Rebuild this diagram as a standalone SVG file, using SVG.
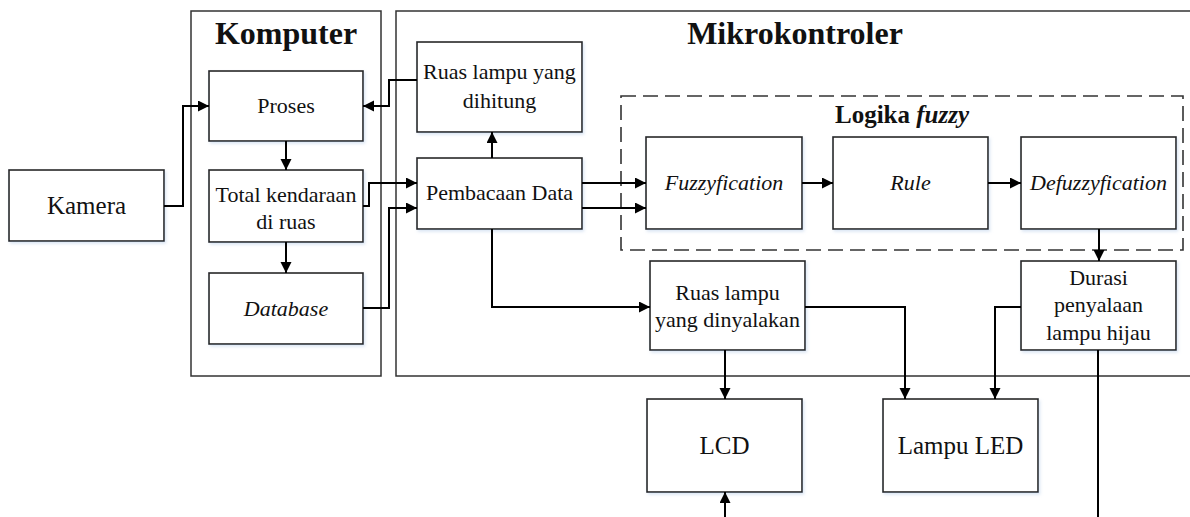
<svg xmlns="http://www.w3.org/2000/svg" width="1190" height="517" viewBox="0 0 1190 517">
<style>
  .box { fill: #fff; stroke: #262626; stroke-width: 1.6; filter: url(#sh); }
  .cont { fill: #fff; stroke: #333; stroke-width: 1.5; }
  .dash { fill: none; stroke: #333; stroke-width: 1.6; stroke-dasharray: 15 7; }
  .lbl { font-family: 'Liberation Serif', 'Times New Roman', serif; font-size: 22px; fill: #111; text-anchor: middle; }
  .big { font-size: 25px; }
  .it { font-style: italic; }
  .title { font-family: 'Liberation Serif', 'Times New Roman', serif; font-size: 32px; font-weight: bold; fill: #111; text-anchor: middle; }
  .sub { font-size: 25px; }
  .conn path { fill: none; stroke: #000; stroke-width: 2; }
  .conn .a { marker-end: url(#arr); }
</style>
<defs>
  <marker id="arr" markerUnits="userSpaceOnUse" markerWidth="12" markerHeight="12" refX="11" refY="5.5" orient="auto">
    <path d="M0,0 L11,5.5 L0,11 z" fill="#000"/>
  </marker>
  <filter id="sh" x="-5%" y="-5%" width="115%" height="115%">
    <feDropShadow dx="1.5" dy="2" stdDeviation="1.5" flood-color="#9ab8e0" flood-opacity="0.35"/>
  </filter>
</defs>
<rect width="1190" height="517" fill="#fff"/>

<g id="komputer">
  <rect class="cont" x="191" y="11" width="190" height="365"/>
  <text class="title" x="286" y="44">Komputer</text>
</g>
<g id="mikrokontroler">
  <path class="cont" d="M1190,11 H396 V376 H1190"/>
  <text class="title" x="795" y="44">Mikrokontroler</text>
</g>
<g id="logika-fuzzy">
  <rect class="dash" x="621" y="96" width="562" height="154"/>
  <text class="title sub" x="902" y="123">Logika <tspan font-style="italic">fuzzy</tspan></text>
</g>

<g id="kamera">
  <rect class="box" x="9" y="170" width="155" height="71"/>
  <text class="lbl big" x="86.5" y="214">Kamera</text>
</g>
<g id="proses">
  <rect class="box" x="209" y="71" width="154" height="70"/>
  <text class="lbl" x="286" y="113">Proses</text>
</g>
<g id="total">
  <rect class="box" x="209" y="170" width="154" height="72"/>
  <text class="lbl" x="286" y="202">Total kendaraan</text>
  <text class="lbl" x="286" y="229">di ruas</text>
</g>
<g id="database">
  <rect class="box" x="209" y="273" width="154" height="71"/>
  <text class="lbl it" x="286" y="316">Database</text>
</g>
<g id="ruas-dihitung">
  <rect class="box" x="417" y="42" width="165" height="90"/>
  <text class="lbl" x="499.5" y="79">Ruas lampu yang</text>
  <text class="lbl" x="499.5" y="108">dihitung</text>
</g>
<g id="pembacaan">
  <rect class="box" x="417" y="158" width="165" height="71"/>
  <text class="lbl" x="499.5" y="200">Pembacaan Data</text>
</g>
<g id="fuzzyfication">
  <rect class="box" x="646" y="137" width="156" height="92"/>
  <text class="lbl it" x="724" y="190">Fuzzyfication</text>
</g>
<g id="rule">
  <rect class="box" x="833" y="137" width="155" height="92"/>
  <text class="lbl it" x="910.5" y="190">Rule</text>
</g>
<g id="defuzzyfication">
  <rect class="box" x="1021" y="137" width="155" height="92"/>
  <text class="lbl it" x="1098.5" y="190">Defuzzyfication</text>
</g>
<g id="ruas-dinyalakan">
  <rect class="box" x="650" y="261" width="155" height="89"/>
  <text class="lbl" x="727.5" y="300">Ruas lampu</text>
  <text class="lbl" x="727.5" y="327">yang dinyalakan</text>
</g>
<g id="durasi">
  <rect class="box" x="1021" y="261" width="155" height="89"/>
  <text class="lbl" x="1098.5" y="285">Durasi</text>
  <text class="lbl" x="1098.5" y="312">penyalaan</text>
  <text class="lbl" x="1098.5" y="340">lampu hijau</text>
</g>
<g id="lcd">
  <rect class="box" x="647" y="399" width="155" height="93"/>
  <text class="lbl big" x="724.5" y="454">LCD</text>
</g>
<g id="lampu-led">
  <rect class="box" x="883" y="399" width="155" height="93"/>
  <text class="lbl big" x="960.5" y="454">Lampu LED</text>
</g>

<g id="connectors" class="conn">
  <path class="a" d="M164,206 H183 V106 H209"/>
  <path class="a" d="M417,80 H389 V106 H363"/>
  <path class="a" d="M286,141 V170"/>
  <path class="a" d="M286,242 V273"/>
  <path class="a" d="M363,206 H369 V183 H417"/>
  <path class="a" d="M363,308 H389 V208 H417"/>
  <path class="a" d="M492,158 V132"/>
  <path class="a" d="M582,183 H646"/>
  <path class="a" d="M582,208 H646"/>
  <path class="a" d="M802,183 H833"/>
  <path class="a" d="M988,183 H1021"/>
  <path class="a" d="M1099,229 V261"/>
  <path class="a" d="M492,229 V307 H650"/>
  <path class="a" d="M725,350 V399"/>
  <path class="a" d="M805,307 H905 V399"/>
  <path class="a" d="M1021,307 H995 V399"/>
  <path d="M1098,350 V517"/>
  <path class="a" d="M725,517 V492"/>
</g>
</svg>
